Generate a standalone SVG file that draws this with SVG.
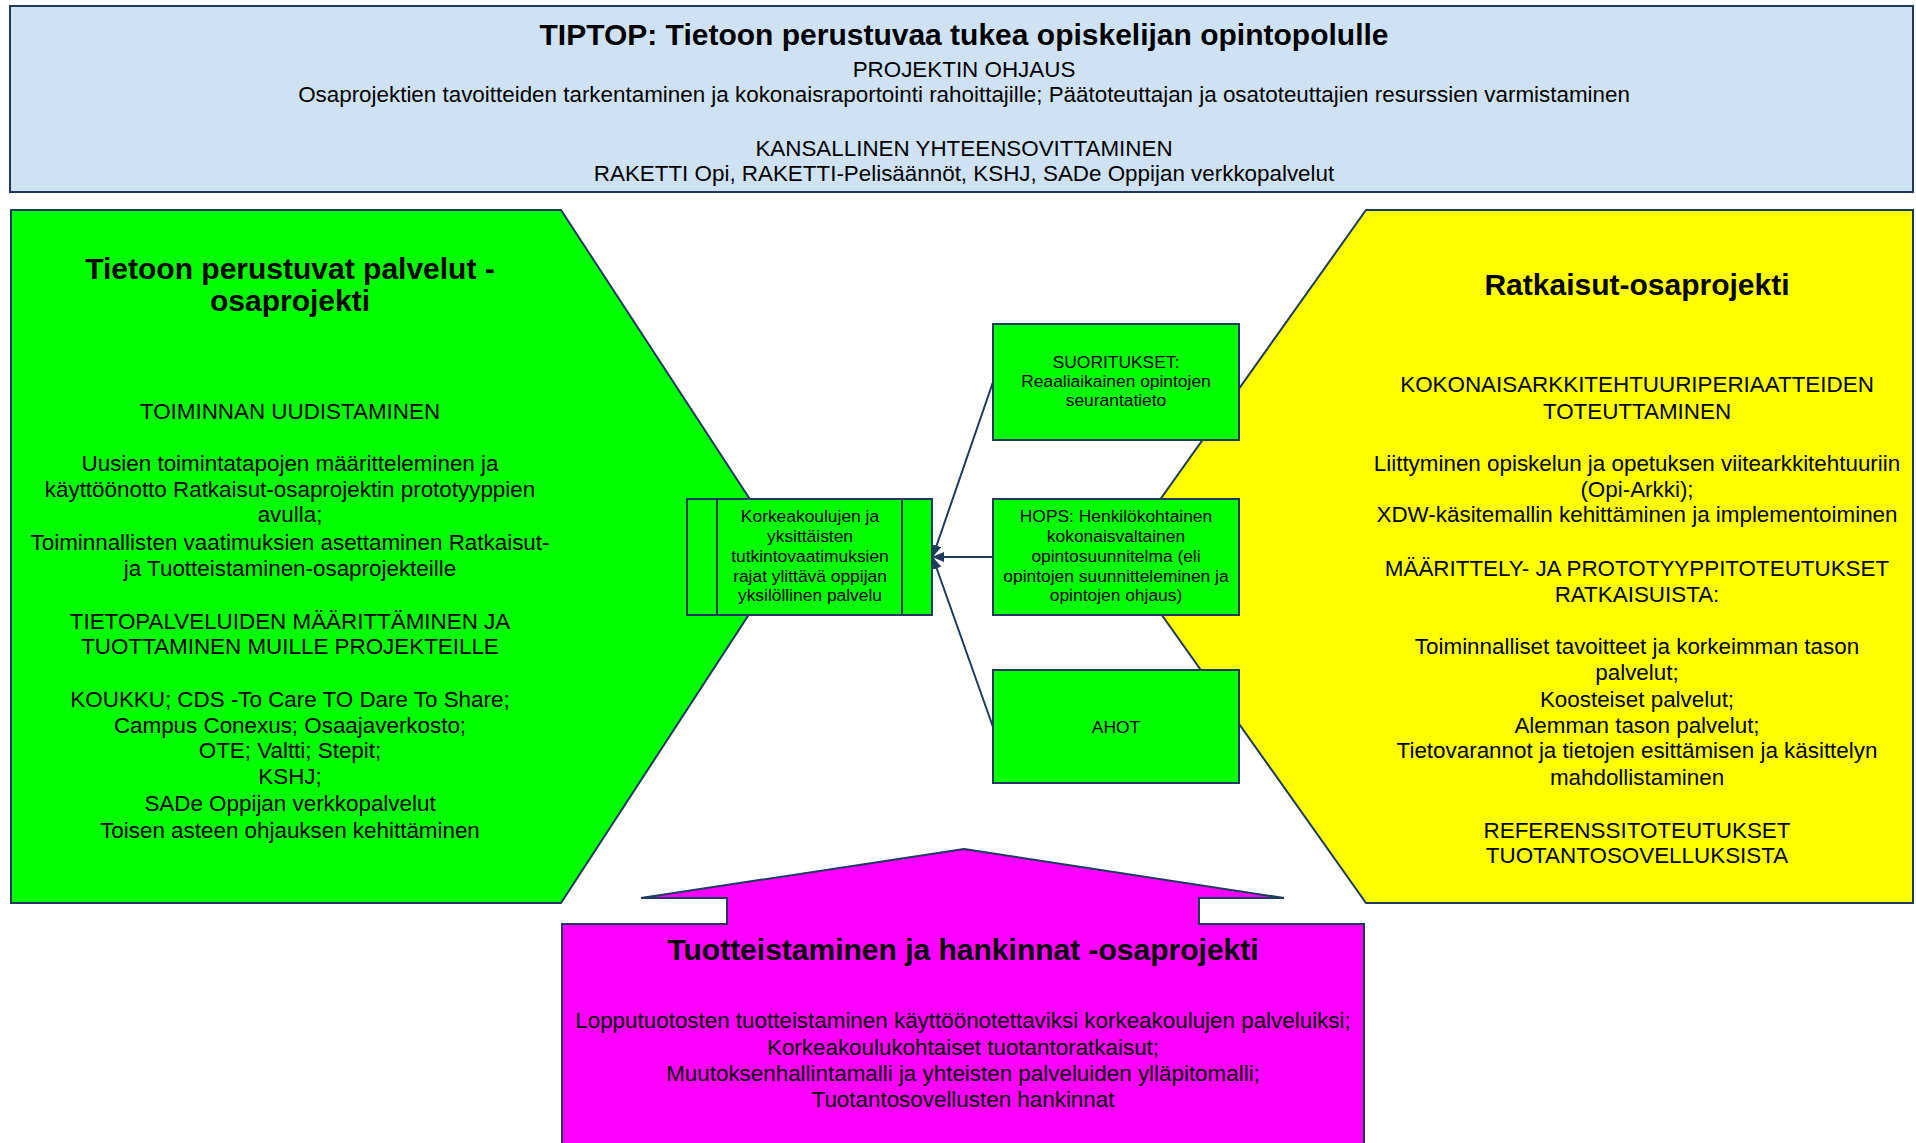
<svg xmlns="http://www.w3.org/2000/svg" width="1916" height="1143" viewBox="0 0 1916 1143">
<style>
text{font-family:"Liberation Sans",Arial,sans-serif;fill:#000;text-anchor:middle}
.h{font-weight:bold;font-size:30px}
.t{font-size:22.4px}
.s{font-size:17.4px}
.ol{stroke:#1f3a5c;stroke-width:2}
.conn{stroke:#1f3a5c;stroke-width:2;fill:none}
</style>
<defs>
<marker id="arr" markerWidth="12" markerHeight="10" refX="11" refY="5" orient="auto" markerUnits="userSpaceOnUse">
<path d="M0,0 L12,5 L0,10 z" fill="#1f3a5c"/>
</marker>
</defs>
<rect width="1916" height="1143" fill="#fff"/>

<g id="header">
<rect class="ol" x="10" y="6" width="1903" height="186" fill="#cfe2f3" stroke-width="2.5"/>
<text class="h" x="964" y="45">TIPTOP: Tietoon perustuvaa tukea opiskelijan opintopolulle</text>
<text class="t" x="964" y="77">PROJEKTIN OHJAUS</text>
<text class="t" x="964" y="102">Osaprojektien tavoitteiden tarkentaminen ja kokonaisraportointi rahoittajille; Päätoteuttajan ja osatoteuttajien resurssien varmistaminen</text>
<text class="t" x="964" y="156">KANSALLINEN YHTEENSOVITTAMINEN</text>
<text class="t" x="964" y="181">RAKETTI Opi, RAKETTI-Pelisäännöt, KSHJ, SADe Oppijan verkkopalvelut</text>
</g>

<g id="tietoon">
<polygon class="ol" points="11,210 561,210 787,556 561,903 11,903" fill="#00ff00"/>
<text class="h" x="290" y="279">Tietoon perustuvat palvelut -</text>
<text class="h" x="290" y="311">osaprojekti</text>
<text class="t" x="290" y="419">TOIMINNAN UUDISTAMINEN</text>
<text class="t" x="290" y="471">Uusien toimintatapojen määritteleminen ja</text>
<text class="t" x="290" y="497">käyttöönotto Ratkaisut-osaprojektin prototyyppien</text>
<text class="t" x="290" y="522">avulla;</text>
<text class="t" x="290" y="550">Toiminnallisten vaatimuksien asettaminen Ratkaisut-</text>
<text class="t" x="290" y="576">ja Tuotteistaminen-osaprojekteille</text>
<text class="t" x="290" y="629">TIETOPALVELUIDEN MÄÄRITTÄMINEN JA</text>
<text class="t" x="290" y="654">TUOTTAMINEN MUILLE PROJEKTEILLE</text>
<text class="t" x="290" y="707">KOUKKU; CDS -To Care TO Dare To Share;</text>
<text class="t" x="290" y="733">Campus Conexus; Osaajaverkosto;</text>
<text class="t" x="290" y="758">OTE; Valtti; Stepit;</text>
<text class="t" x="290" y="784">KSHJ;</text>
<text class="t" x="290" y="811">SADe Oppijan verkkopalvelut</text>
<text class="t" x="290" y="838">Toisen asteen ohjauksen kehittäminen</text>
</g>

<g id="ratkaisut">
<polygon class="ol" points="1366,210 1913,210 1913,903 1366,903 1120,556" fill="#ffff00"/>
<text class="h" x="1637" y="295">Ratkaisut-osaprojekti</text>
<text class="t" x="1637" y="392">KOKONAISARKKITEHTUURIPERIAATTEIDEN</text>
<text class="t" x="1637" y="419">TOTEUTTAMINEN</text>
<text class="t" x="1637" y="471">Liittyminen opiskelun ja opetuksen viitearkkitehtuuriin</text>
<text class="t" x="1637" y="497">(Opi-Arkki);</text>
<text class="t" x="1637" y="522">XDW-käsitemallin kehittäminen ja implementoiminen</text>
<text class="t" x="1637" y="576">MÄÄRITTELY- JA PROTOTYYPPITOTEUTUKSET</text>
<text class="t" x="1637" y="602">RATKAISUISTA:</text>
<text class="t" x="1637" y="654">Toiminnalliset tavoitteet ja korkeimman tason</text>
<text class="t" x="1637" y="680">palvelut;</text>
<text class="t" x="1637" y="707">Koosteiset palvelut;</text>
<text class="t" x="1637" y="733">Alemman tason palvelut;</text>
<text class="t" x="1637" y="758">Tietovarannot ja tietojen esittämisen ja käsittelyn</text>
<text class="t" x="1637" y="785">mahdollistaminen</text>
<text class="t" x="1637" y="838">REFERENSSITOTEUTUKSET</text>
<text class="t" x="1637" y="863">TUOTANTOSOVELLUKSISTA</text>
</g>

<g id="tuotteistaminen">
<polygon class="ol" points="964,849 1284,898 1199,898 1199,924 1364,924 1364,1150 562,1150 562,924 727,924 727,898 641,898" fill="#ff00ff"/>
<text class="h" x="963" y="960">Tuotteistaminen ja hankinnat -osaprojekti</text>
<text class="t" x="963" y="1028">Lopputuotosten tuotteistaminen käyttöönotettaviksi korkeakoulujen palveluiksi;</text>
<text class="t" x="963" y="1055">Korkeakoulukohtaiset tuotantoratkaisut;</text>
<text class="t" x="963" y="1081">Muutoksenhallintamalli ja yhteisten palveluiden ylläpitomalli;</text>
<text class="t" x="963" y="1107">Tuotantosovellusten hankinnat</text>
</g>

<g id="palvelu">
<rect class="ol" x="687" y="499" width="245" height="116" fill="#00ff00"/>
<line class="ol" x1="717" y1="499" x2="717" y2="615"/>
<line class="ol" x1="902" y1="499" x2="902" y2="615"/>
<text class="s" x="810" y="522">Korkeakoulujen ja</text>
<text class="s" x="810" y="542">yksittäisten</text>
<text class="s" x="810" y="562">tutkintovaatimuksien</text>
<text class="s" x="810" y="582">rajat ylittävä oppijan</text>
<text class="s" x="810" y="601">yksilöllinen palvelu</text>
</g>

<g id="suoritukset">
<rect class="ol" x="993" y="324" width="246" height="116" fill="#00ff00"/>
<text class="s" x="1116" y="368">SUORITUKSET:</text>
<text class="s" x="1116" y="387">Reaaliaikainen opintojen</text>
<text class="s" x="1116" y="406">seurantatieto</text>
</g>

<g id="hops">
<rect class="ol" x="993" y="499" width="246" height="116" fill="#00ff00"/>
<text class="s" x="1116" y="522">HOPS: Henkilökohtainen</text>
<text class="s" x="1116" y="542">kokonaisvaltainen</text>
<text class="s" x="1116" y="562">opintosuunnitelma (eli</text>
<text class="s" x="1116" y="582">opintojen suunnitteleminen ja</text>
<text class="s" x="1116" y="601">opintojen ohjaus)</text>
</g>

<g id="ahot">
<rect class="ol" x="993" y="670" width="246" height="113" fill="#00ff00"/>
<text class="s" x="1116" y="733">AHOT</text>
</g>

<g id="connectors">
<line class="conn" x1="993" y1="382" x2="933" y2="556" marker-end="url(#arr)"/>
<line class="conn" x1="993" y1="557" x2="933" y2="557" marker-end="url(#arr)"/>
<line class="conn" x1="993" y1="727" x2="933" y2="558" marker-end="url(#arr)"/>
</g>
</svg>
